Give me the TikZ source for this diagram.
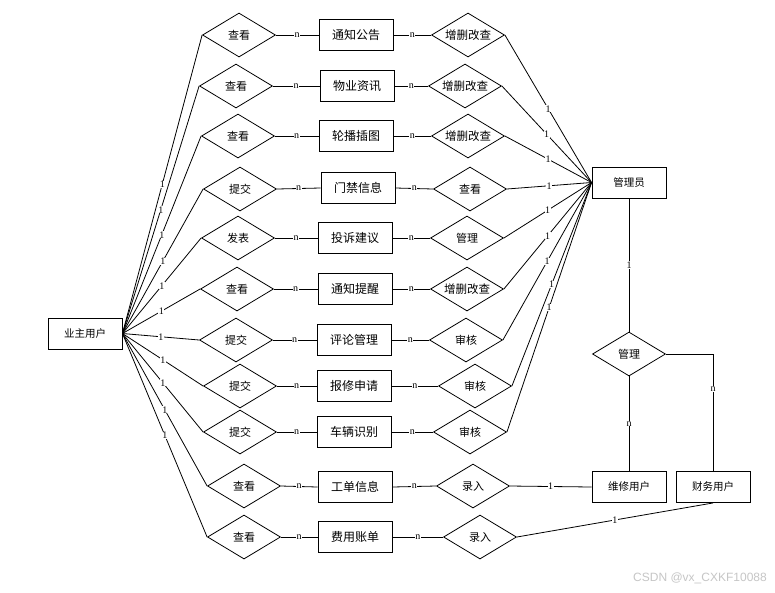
\documentclass[tikz,border=0pt]{standalone}
\usepackage{fontspec}
\setmainfont{Noto Sans CJK SC}
\newfontfamily\lblfont{Liberation Serif}
\newfontfamily\wmfont{Liberation Sans}
\usetikzlibrary{shapes.geometric}
\begin{document}
\begin{tikzpicture}[x=1pt,y=-1pt,
 ent/.style={draw, line width=0.9pt, minimum width=74pt, minimum height=31pt, inner sep=0pt, font=\fontsize{10.5}{12}\selectfont},
 entm/.style={ent, font=\fontsize{12}{14}\selectfont},
 rel/.style={draw, diamond, aspect=1.66, line width=0.8pt, minimum width=73pt, minimum height=44pt, inner sep=0pt, font=\fontsize{11}{13}\selectfont},
 relw/.style={rel, font=\fontsize{11.5}{13}\selectfont},
 con/.style={line width=0.8pt},
 lb/.style={font=\fontsize{10}{11}\selectfont\lblfont, fill=white, inner sep=0.3pt},
]
\useasboundingbox[fill=white] (0,0) rectangle (775,592);

% entities
\node[ent] (U) at (85,333.5) {业主用户};
\node[ent] (A) at (629,182.5) {管理员};
\node[rel] (G) at (629,354) {管理};
\node[ent] (W) at (629,487) {维修用户};
\node[ent] (F) at (713,487) {财务用户};

% left relations
\node[rel] (L1) at (239,35) {查看};
\node[rel] (L2) at (236,86) {查看};
\node[rel] (L3) at (238,136) {查看};
\node[rel] (L4) at (240,189) {提交};
\node[rel] (L5) at (238,238) {发表};
\node[rel] (L6) at (237,289) {查看};
\node[rel] (L7) at (236,340) {提交};
\node[rel] (L8) at (240,386) {提交};
\node[rel] (L9) at (240,432) {提交};
\node[rel] (L10) at (244,486) {查看};
\node[rel] (L11) at (244,537) {查看};

% middle entities
\node[entm] (M1) at (356,35) {通知公告};
\node[entm] (M2) at (357,86) {物业资讯};
\node[entm] (M3) at (356,136) {轮播插图};
\node[entm] (M4) at (358,188) {门禁信息};
\node[entm] (M5) at (355,238) {投诉建议};
\node[entm] (M6) at (355,289) {通知提醒};
\node[entm] (M7) at (354,340) {评论管理};
\node[entm] (M8) at (354,386) {报修申请};
\node[entm] (M9) at (354,432) {车辆识别};
\node[entm] (M10) at (355,487) {工单信息};
\node[entm] (M11) at (355,537) {费用账单};

% right relations
\node[relw] (R1) at (468,35) {增删改查};
\node[relw] (R2) at (465,86) {增删改查};
\node[relw] (R3) at (468,136) {增删改查};
\node[rel] (R4) at (470,189) {查看};
\node[rel] (R5) at (467,238) {管理};
\node[relw] (R6) at (467,289) {增删改查};
\node[rel] (R7) at (466,340) {审核};
\node[rel] (R8) at (475,386) {审核};
\node[rel] (R9) at (470,432) {审核};
\node[rel] (R10) at (473,486) {录入};
\node[rel] (R11) at (480,537) {录入};

% connectors
\foreach \i in {1,...,11}{
  \draw[con] (U.east) -- node[lb]{1} (L\i.west);
  \draw[con] (L\i.east) -- node[lb]{n} (M\i.west);
  \draw[con] (M\i.east) -- node[lb]{n} (R\i.west);
}
\foreach \i in {1,...,9}{
  \draw[con] (R\i.east) -- node[lb]{1} (A.west);
}
\draw[con] (R10.east) -- node[lb]{1} (W.west);
\draw[con] (R11.east) -- node[lb]{1} (F.south);
\draw[con] (A.south) -- node[lb]{1} (G.north);
\draw[con] (G.south) -- node[lb]{n} (W.north);
\draw[con] (G.east) -| node[lb, pos=0.65]{n} (F.north);

\node[font=\fontsize{12}{14}\selectfont\wmfont, text=gray!45, anchor=east, inner sep=0pt] (wm) at (767,578) {CSDN @vx\_CXKF10088};
\end{tikzpicture}
\end{document}
